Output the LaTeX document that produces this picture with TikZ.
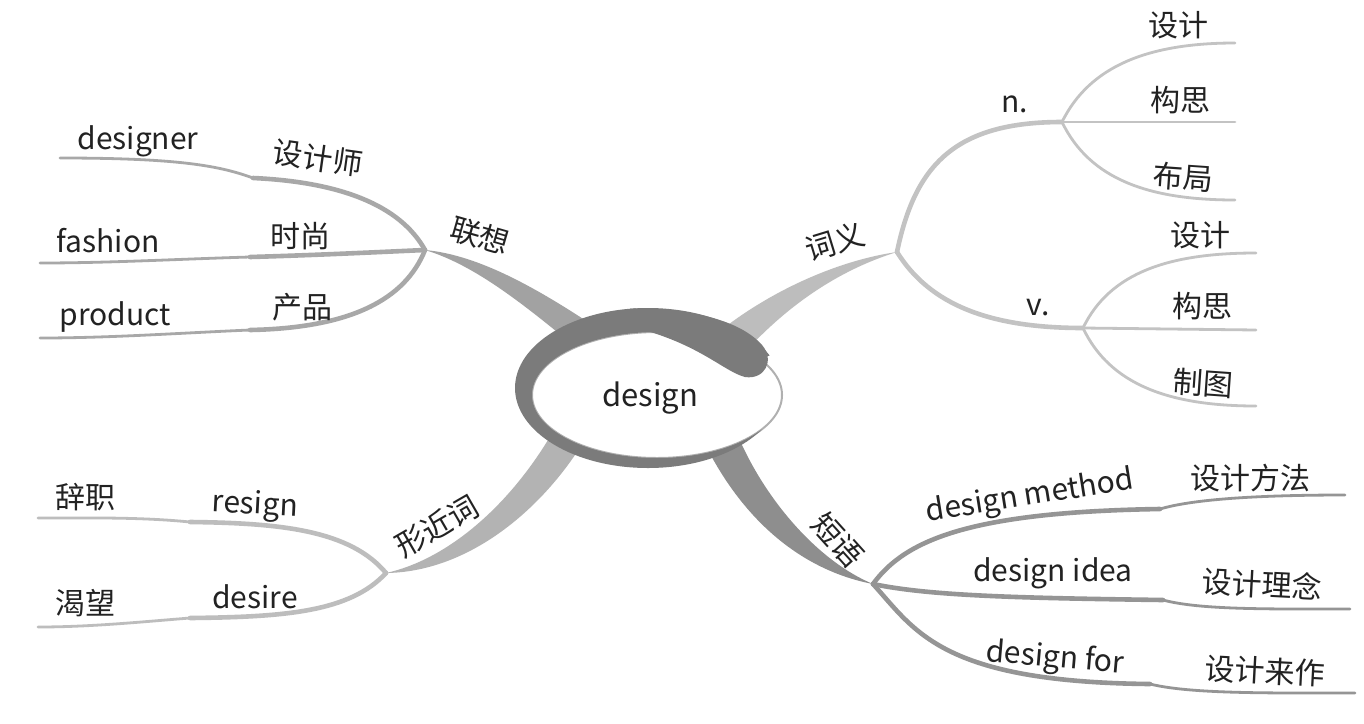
\documentclass[tikz,border=0pt]{standalone}
\usepackage{fontspec}
\newfontfamily\cjkf{Noto Sans CJK SC}
\definecolor{txt}{HTML}{222222}
\definecolor{ringc}{HTML}{7B7B7B}
\definecolor{rimc}{HTML}{B0B0B0}
\definecolor{cL}{HTML}{A8A8A8}
\definecolor{bL}{HTML}{A2A2A2}
\definecolor{cR}{HTML}{C3C3C3}
\definecolor{bR}{HTML}{BDBDBD}
\definecolor{cP}{HTML}{959595}
\definecolor{bP}{HTML}{8E8E8E}
\definecolor{cX}{HTML}{BDBDBD}
\definecolor{bX}{HTML}{B3B3B3}
\begin{document}
\begin{tikzpicture}[x=0.5pt,y=-0.5pt,
  zh/.style={font=\cjkf\fontsize{15}{18}\selectfont, text=txt, inner sep=0pt},
  la/.style={font=\cjkf\fontsize{15}{18}\selectfont, text=txt, inner sep=0pt},
  brA/.style={line width=2.3pt, line cap=round},
  brB/.style={line width=1.4pt, line cap=round},
]
\useasboundingbox[fill=white] (0,0) rectangle (1364,723);

% ---------- hubs and joints ----------
\coordinate (L) at (425,250);
\coordinate (Ld1) at (253,178); \coordinate (Le1) at (60,158);
\coordinate (Ld2) at (250,257); \coordinate (Le2) at (40,263);
\coordinate (Ld3) at (250,330); \coordinate (Le3) at (40,338);

\coordinate (R) at (897,252);
\coordinate (N) at (1062,122);
\coordinate (V) at (1083,328);
\coordinate (Ne1) at (1235,43); \coordinate (Ne2) at (1235,122); \coordinate (Ne3) at (1235,200);
\coordinate (Ve1) at (1256,253); \coordinate (Ve2) at (1256,330); \coordinate (Ve3) at (1256,406);

\coordinate (P) at (873,584);
\coordinate (Pd1) at (1160,509); \coordinate (Pe1) at (1345,495);
\coordinate (Pd2) at (1163,600); \coordinate (Pe2) at (1350,609);
\coordinate (Pd3) at (1150,684); \coordinate (Pe3) at (1355,693);

\coordinate (X) at (386,573);
\coordinate (Xd1) at (190,522); \coordinate (Xe1) at (38,518);
\coordinate (Xd2) at (190,618); \coordinate (Xe2) at (38,627);

\coordinate (Lc1) at (600,330); \coordinate (Lc2) at (585,355);
\coordinate (Rc1) at (715,335); \coordinate (Rc2) at (745,352);
\coordinate (Pc1) at (708,450); \coordinate (Pc2) at (742,445);
\coordinate (Xc1) at (548,440); \coordinate (Xc2) at (577,452);

% ---------- main tapered bands ----------
\fill[bL] (L) .. controls (480,255) and (540,290) .. (Lc1) -- (Lc2) .. controls (525,305) and (475,265) .. (L);
\fill[bR] (R) .. controls (840,260) and (770,290) .. (Rc1) -- (Rc2) .. controls (800,292) and (855,265) .. (R);
\fill[bP] (P) .. controls (810,572) and (750,530) .. (Pc1) -- (Pc2) .. controls (770,505) and (820,562) .. (P);
\fill[bX] (X) .. controls (445,560) and (505,510) .. (Xc1) -- (Xc2) .. controls (535,515) and (465,572) .. (X);

% ---------- 联想 ----------
\draw[brA,cL] (L) .. controls (400,205) and (340,182) .. (Ld1);
\draw[brB,cL] (Ld1) .. controls (220,166) and (180,158) .. (Le1);
\draw[brA,cL] (L) .. controls (380,252) and (320,255) .. (Ld2);
\draw[brB,cL] (Ld2) .. controls (180,259) and (110,263) .. (Le2);
\draw[brA,cL] (L) .. controls (405,300) and (350,328) .. (Ld3);
\draw[brB,cL] (Ld3) .. controls (180,333) and (110,338) .. (Le3);

% ---------- 词义 ----------
\draw[brA,cR] (R) .. controls (915,165) and (955,122) .. (N);
\draw[brA,cR] (R) .. controls (930,305) and (990,328) .. (V);
\draw[brB,cR] (N) .. controls (1090,65) and (1150,43) .. (Ne1);
\draw[brB,cR] (N) -- (Ne2);
\draw[brB,cR] (N) .. controls (1090,180) and (1150,200) .. (Ne3);
\draw[brB,cR] (V) .. controls (1110,272) and (1170,253) .. (Ve1);
\draw[brB,cR] (V) -- (Ve2);
\draw[brB,cR] (V) .. controls (1110,385) and (1170,406) .. (Ve3);

% ---------- 短语 ----------
\draw[brA,cP] (P) .. controls (905,540) and (970,512) .. (Pd1);
\draw[brB,cP] (Pd1) .. controls (1190,500) and (1250,495) .. (Pe1);
\draw[brA,cP] (P) .. controls (930,596) and (1020,598) .. (Pd2);
\draw[brB,cP] (Pd2) .. controls (1200,610) and (1270,609) .. (Pe2);
\draw[brA,cP] (P) .. controls (915,630) and (940,682) .. (Pd3);
\draw[brB,cP] (Pd3) .. controls (1190,694) and (1270,693) .. (Pe3);

% ---------- 形近词 ----------
\draw[brA,cX] (X) .. controls (350,530) and (280,523) .. (Xd1);
\draw[brB,cX] (Xd1) .. controls (140,517) and (90,518) .. (Xe1);
\draw[brA,cX] (X) .. controls (350,612) and (285,617) .. (Xd2);
\draw[brB,cX] (Xd2) .. controls (140,622) and (90,627) .. (Xe2);

% ---------- centre swirl ----------
\draw[fill=white, draw=rimc, line width=1pt] (657,395) ellipse [x radius=125, y radius=63];
\begin{scope}
  \clip (648,388) -- (1248,228) -- (1248,-300) -- (-300,-300) -- (-300,1100) -- (1248,1100) -- (1248,606) -- cycle;
  \fill[ringc, even odd rule] (648,388) ellipse [x radius=133, y radius=80] (657,395) ellipse [x radius=125, y radius=63];
\end{scope}
\fill[ringc] (630,308.5) .. controls (690,308) and (740,320) .. (762,345)
  .. controls (775,360) and (765,380) .. (745,377)
  .. controls (725,372) and (700,345) .. (640,329) -- (630,330) -- cycle;
\node[la, font=\cjkf\fontsize{15.5}{18}\selectfont] (centre) at (650,398) {design};

% ---------- labels ----------
\node[la] (t1) at (138,141) {designer};
\node[zh, rotate=-8] (t2) at (318,158) {设计师};
\node[la] (t3) at (108,241) {fashion};
\node[zh] (t4) at (300,236) {时尚};
\node[la] (t5) at (115,317) {product};
\node[zh] (t6) at (302,307) {产品};
\node[zh, rotate=-16] (t7) at (480,236) {联想};

\node[zh, rotate=17] (t8) at (835,242) {词义};
\node[la] (t9) at (1015,104) {n.};
\node[la] (t10) at (1038,308) {v.};
\node[zh] (t11) at (1178,25) {设计};
\node[zh] (t12) at (1180,100) {构思};
\node[zh, rotate=-4] (t13) at (1183,177) {布局};
\node[zh] (t14) at (1200,235) {设计};
\node[zh] (t15) at (1202,306) {构思};
\node[zh, rotate=-4] (t16) at (1203,383) {制图};

\node[zh, rotate=-48] (t17) at (838,540) {短语};
\node[la, rotate=9] (t18) at (1030,497) {design method};
\node[zh] (t19) at (1250,478) {设计方法};
\node[la] (t20) at (1053,573) {design idea};
\node[zh, rotate=-3] (t21) at (1262,584) {设计理念};
\node[la, rotate=-5] (t22) at (1055,659) {design for};
\node[zh, rotate=-3] (t23) at (1265,671) {设计来作};

\node[zh, rotate=30] (t24) at (437,526) {形近词};
\node[zh] (t25) at (85,497) {辞职};
\node[la, rotate=-3] (t26) at (255,506) {resign};
\node[zh] (t27) at (85,603) {渴望};
\node[la] (t28) at (255,597) {desire};
\end{tikzpicture}
\end{document}
